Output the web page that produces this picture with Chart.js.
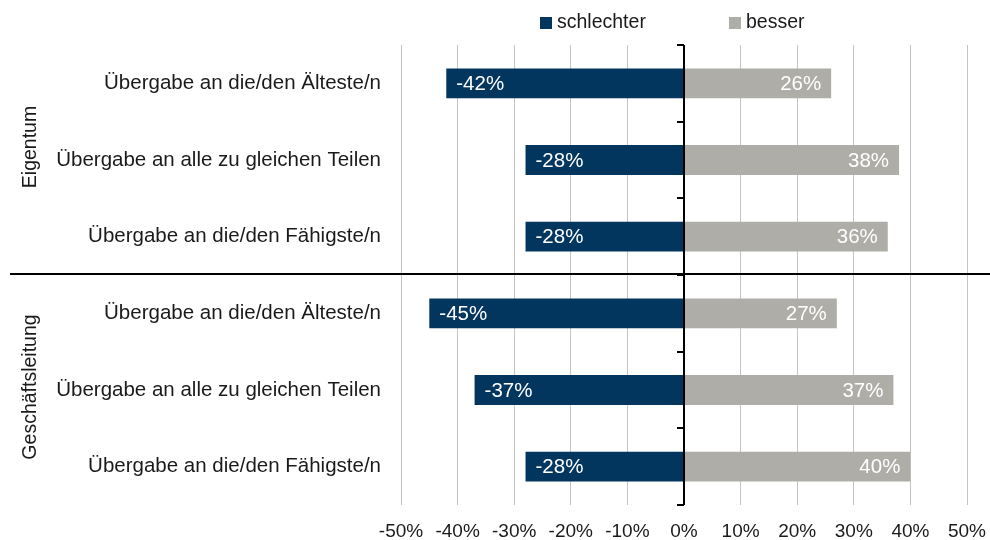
<!DOCTYPE html>
<html>
<head>
<meta charset="utf-8">
<script src="https://cdn.jsdelivr.net/npm/chart.js@4.4.1/dist/chart.umd.min.js"></script>
<style>
  html, body { margin: 0; padding: 0; background: #fff; }
  #wrap { width: 990px; height: 540px; }
</style>
</head>
<body>
<div id="wrap"><canvas id="chart"></canvas></div>
<script>
const categories = [
  'Übergabe an die/den Älteste/n',
  'Übergabe an alle zu gleichen Teilen',
  'Übergabe an die/den Fähigste/n',
  'Übergabe an die/den Älteste/n',
  'Übergabe an alle zu gleichen Teilen',
  'Übergabe an die/den Fähigste/n'
];
const groupLabels = ['Eigentum', 'Geschäftsleitung'];
const groupSizes = [3, 3];
const schlechter = [-42, -28, -28, -45, -37, -28];
const besser = [26, 38, 36, 27, 37, 40];
const xMin = -50;
const xMax = 50;
const xStep = 10;

const FONT = '"Liberation Sans", Arial, sans-serif';
const NAVY = '#02365f';
const GREY = '#aeada8';

// labels inside the bars, centre axis with ticks, group separator, group titles, legend
const overlay = {
  id: 'overlay',
  afterDatasetsDraw(chart) {
    const { ctx, chartArea, scales: { x, y } } = chart;
    ctx.save();

    // value labels
    ctx.font = '20.5px ' + FONT;
    ctx.fillStyle = '#fff';
    ctx.textBaseline = 'middle';
    chart.data.datasets.forEach((ds, di) => {
      const meta = chart.getDatasetMeta(di);
      meta.data.forEach((bar, i) => {
        const v = ds.data[i];
        const txt = Math.round(v) + '%';
        if (v < 0) {
          ctx.textAlign = 'left';
          ctx.fillText(txt, bar.x + 10, bar.y + 1);
        } else {
          ctx.textAlign = 'right';
          ctx.fillText(txt, bar.x - 10, bar.y + 1);
        }
      });
    });

    // centre axis
    const x0 = x.getPixelForValue(0);
    ctx.strokeStyle = '#000';
    ctx.lineWidth = 2;
    ctx.beginPath();
    ctx.moveTo(x0, chartArea.top);
    ctx.lineTo(x0, chartArea.bottom);
    ctx.stroke();
    for (let i = 0; i <= categories.length; i++) {
      const yb = Math.round(y.getPixelForValue(i - 0.5));
      ctx.beginPath();
      ctx.moveTo(x0 - 7, yb);
      ctx.lineTo(x0, yb);
      ctx.stroke();
    }

    // separator between groups
    let start = 0;
    groupSizes.forEach((n, gi) => {
      const top = y.getPixelForValue(start - 0.5);
      const bottom = y.getPixelForValue(start + n - 0.5);
      if (gi > 0) {
        ctx.beginPath();
        ctx.moveTo(10, top - 1);
        ctx.lineTo(chart.width, top - 1);
        ctx.stroke();
      }
      ctx.save();
      ctx.translate(31, gi === 0 ? (top + bottom) / 2 - 13 : (top + bottom) / 2 - 3);
      ctx.rotate(-Math.PI / 2);
      ctx.font = '19.5px ' + FONT;
      ctx.fillStyle = '#1a1a1a';
      ctx.textAlign = 'center';
      ctx.textBaseline = 'middle';
      ctx.fillText(groupLabels[gi], 0, 0);
      ctx.restore();
      start += n;
    });

    // legend
    ctx.font = '19.5px ' + FONT;
    ctx.textAlign = 'left';
    ctx.textBaseline = 'middle';
    const legendX = [540, 729];
    chart.data.datasets.forEach((ds, di) => {
      ctx.fillStyle = ds.backgroundColor;
      ctx.fillRect(legendX[di], 17, 12, 12);
      ctx.fillStyle = '#1a1a1a';
      ctx.fillText(ds.label, legendX[di] + 17, 23);
    });

    ctx.restore();
  }
};

new Chart(document.getElementById('chart'), {
  type: 'bar',
  data: {
    labels: categories,
    datasets: [
      { label: 'schlechter', data: schlechter, backgroundColor: NAVY },
      { label: 'besser', data: besser, backgroundColor: GREY }
    ]
  },
  options: {
    indexAxis: 'y',
    responsive: true,
    maintainAspectRatio: false,
    animation: false,
    layout: { padding: { top: 45, right: 23, bottom: 0, left: 0 } },
    datasets: { bar: { categoryPercentage: 1, barPercentage: 0.39 } },
    plugins: {
      legend: { display: false },
      tooltip: { enabled: false }
    },
    scales: {
      x: {
        stacked: true,
        min: xMin,
        max: xMax,
        border: { display: false },
        grid: {
          drawTicks: false,
          color: (c) => (c.tick && c.tick.value === 0 ? 'rgba(0,0,0,0)' : '#c4c4c4'),
          lineWidth: 1
        },
        ticks: {
          stepSize: xStep,
          padding: 15,
          color: '#1a1a1a',
          font: { family: FONT, size: 19 },
          callback: (v) => v + '%'
        },
        afterFit: (scale) => {
          scale.height = 35;
          scale.paddingLeft = 0;
          scale.paddingRight = 0;
        }
      },
      y: {
        stacked: true,
        border: { display: false },
        grid: { display: false, drawTicks: false },
        ticks: {
          padding: 20,
          color: '#1a1a1a',
          font: { family: FONT, size: 20.5 }
        },
        afterFit: (scale) => { scale.width = 401; }
      }
    }
  },
  plugins: [overlay]
});
</script>
</body>
</html>
